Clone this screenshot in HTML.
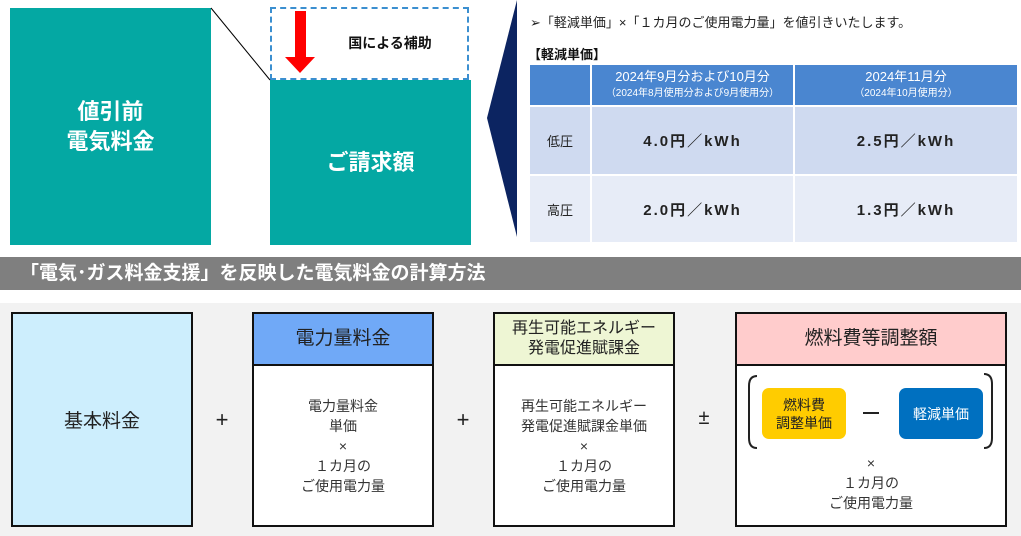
<!DOCTYPE html>
<html><head><meta charset="utf-8"><style>
*{margin:0;padding:0;box-sizing:border-box}
body{width:1021px;height:536px;position:relative;background:#fff;font-family:"Liberation Sans","Noto Sans CJK JP",sans-serif;overflow:hidden;color:#222}
.a{position:absolute}
.c{display:flex;align-items:center;justify-content:center;text-align:center}
.t{background:#04a8a3;color:#fff;font-weight:bold;font-size:22px;line-height:30px}
.box{position:absolute;border:2.5px solid #111;background:#fff}
.hd{position:absolute;left:0;right:0;top:0;height:52px;border-bottom:2.5px solid #111;font-size:19px;line-height:22px}
.bd{font-size:14px;line-height:20px;color:#333}
td{border:2px solid #fff;text-align:center}
</style></head><body>
<div class="a t c" style="left:10px;top:8px;width:201px;height:237px">値引前<br>電気料金</div>
<div class="a t c" style="left:270px;top:80px;width:201px;height:165px">ご請求額</div>
<div class="a" style="left:270px;top:7px;width:199px;height:73px;border:2px dashed #3b8fd0"></div>
<div class="a c" style="left:320px;top:30px;width:140px;height:26px;font-weight:bold;font-size:14px;color:#111">国による補助</div>
<svg class="a" style="left:0;top:0" width="1021" height="250">
<line x1="211" y1="8" x2="270" y2="80" stroke="#000" stroke-width="1"/>
<polygon points="295,11 306,11 306,57 315,57 300,73 285,57 295,57" fill="#ff0000"/>
<polygon points="517,0 487,118 517,237" fill="#0c2461"/>
</svg>
<div class="a" style="left:530px;top:12px;font-size:13px;color:#222">➢「軽減単価」×「１カ月のご使用電力量」を値引きいたします。</div>
<div class="a" style="left:528px;top:44px;font-size:13px;font-weight:bold;color:#111">【軽減単価】</div>
<table class="a" style="left:528px;top:63px;width:491px;border-collapse:collapse">
<tr style="height:42px;background:#4a86d0;color:#fff"><td style="width:62px"></td><td style="width:203px;font-size:13px;line-height:15px">2024年9月分および10月分<br><span style="font-size:10px">（2024年8月使用分および9月使用分）</span></td><td style="font-size:13px;line-height:15px">2024年11月分<br><span style="font-size:10px">（2024年10月使用分）</span></td></tr>
<tr style="height:69px;background:#cfdaf0"><td style="font-size:13px">低圧</td><td style="font-weight:bold;font-size:15px;letter-spacing:2px">4.0円／kWh</td><td style="font-weight:bold;font-size:15px;letter-spacing:2px">2.5円／kWh</td></tr>
<tr style="height:68px;background:#e7ecf7"><td style="font-size:13px">高圧</td><td style="font-weight:bold;font-size:15px;letter-spacing:2px">2.0円／kWh</td><td style="font-weight:bold;font-size:15px;letter-spacing:2px">1.3円／kWh</td></tr>
</table>
<div class="a" style="left:0;top:257px;width:1021px;height:33px;background:#7f7f7f;color:#fff;font-weight:bold;font-size:19px;line-height:33px;padding-left:20px">「電気･ガス料金支援」を反映した電気料金の計算方法</div>
<div class="a" style="left:0;top:303px;width:1021px;height:233px;background:#f2f2f2"></div>
<div class="box c" style="left:11px;top:312px;width:182px;height:215px;background:#cdeefd;font-size:19px">基本料金</div>
<div class="a c" style="left:207px;top:405px;width:30px;height:30px;font-size:22px">+</div>
<div class="box" style="left:252px;top:312px;width:182px;height:215px">
<div class="hd c" style="background:#70a9f7">電力量料金</div>
<div class="a bd c" style="left:0;right:0;top:52px;bottom:0">電力量料金<br>単価<br>×<br>１カ月の<br>ご使用電力量</div></div>
<div class="a c" style="left:448px;top:405px;width:30px;height:30px;font-size:22px">+</div>
<div class="box" style="left:493px;top:312px;width:182px;height:215px">
<div class="hd c" style="background:#eef6d4;font-size:16px;line-height:20px">再生可能エネルギー<br>発電促進賦課金</div>
<div class="a bd c" style="left:0;right:0;top:52px;bottom:0">再生可能エネルギー<br>発電促進賦課金単価<br>×<br>１カ月の<br>ご使用電力量</div></div>
<div class="a c" style="left:689px;top:403px;width:30px;height:30px;font-size:20px">±</div>
<div class="box" style="left:735px;top:312px;width:272px;height:215px">
<div class="hd c" style="background:#ffcccc">燃料費等調整額</div>
<svg class="a" style="left:0;top:52px" width="268" height="100">
<path d="M20,10 Q12,10 12,20 L12,72 Q12,82 20,82" fill="none" stroke="#222" stroke-width="2"/>
<path d="M247,8 Q255,8 255,18 L255,72 Q255,82 247,82" fill="none" stroke="#222" stroke-width="2"/>
<line x1="126" y1="47" x2="142" y2="47" stroke="#222" stroke-width="2"/>
</svg>
<div class="a c" style="left:25px;top:74px;width:84px;height:51px;background:#ffcc00;border-radius:7px;font-size:14px;line-height:18px">燃料費<br>調整単価</div>
<div class="a c" style="left:162px;top:74px;width:84px;height:51px;background:#0070c0;border-radius:7px;font-size:14px;color:#fff">軽減単価</div>
<div class="a bd c" style="left:0;right:0;top:134px;height:70px">×<br>１カ月の<br>ご使用電力量</div></div>
</body></html>
